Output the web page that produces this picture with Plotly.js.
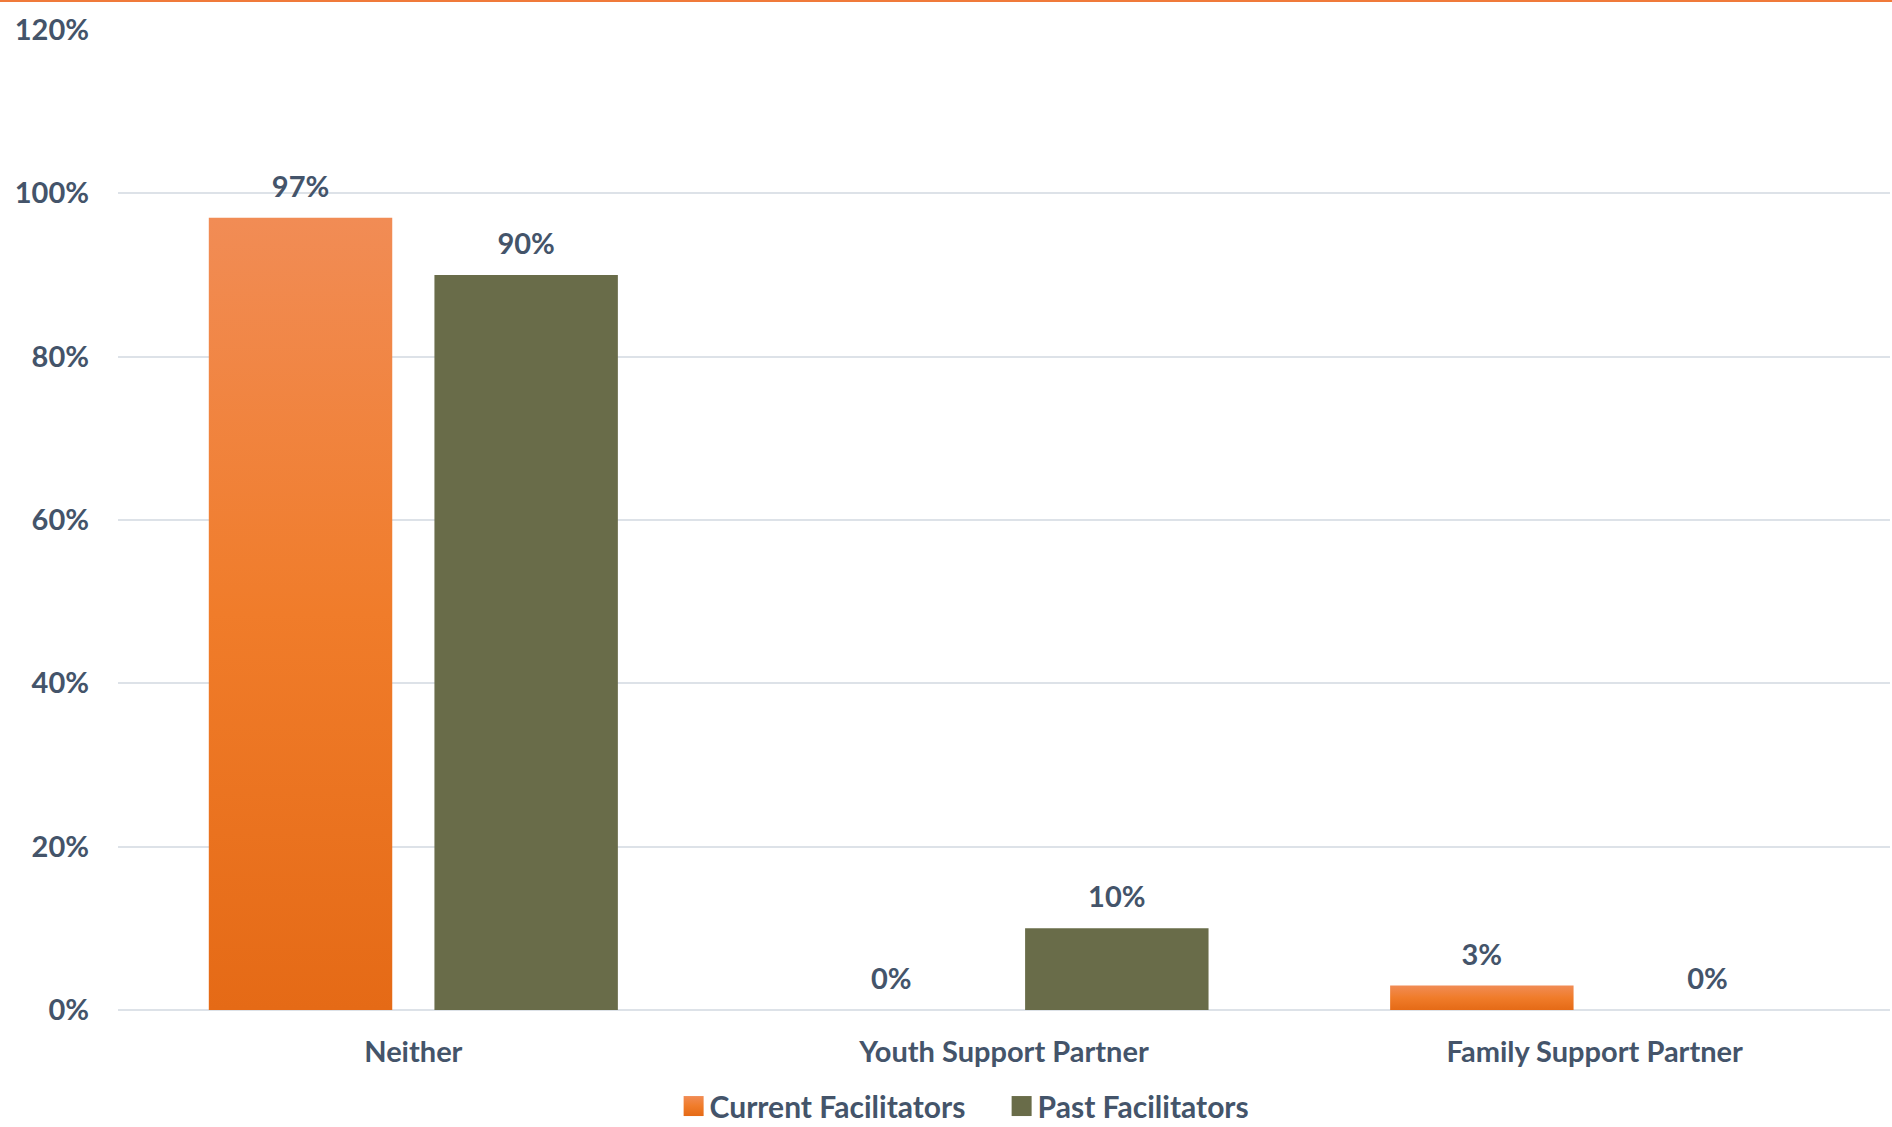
<!DOCTYPE html>
<html>
<head>
<meta charset="utf-8">
<script src="https://cdn.plot.ly/plotly-3.0.1.min.js"></script>
<style>
html,body{margin:0;padding:0;background:#fff;}
#topline{position:absolute;left:0;top:0;width:1892px;height:2px;background:#F07A3A;z-index:10;}
#chart{width:1892px;height:1127px;}
</style>
</head>
<body>
<div id="topline"></div>
<div id="chart"></div>
<script>
const categories = ["Neither", "Youth Support Partner", "Family Support Partner"];
const currentFacilitators = [0.97, 0.00, 0.03];
const pastFacilitators = [0.90, 0.10, 0.00];
const seriesNames = ["Current Facilitators", "Past Facilitators"];
const yTickVals = [0, 0.2, 0.4, 0.6, 0.8, 1.0, 1.2];

const textColor = "#44546A";
const fontFam = "Lato, 'Open Sans', sans-serif";
const fs = 29;
const fmt = v => Math.round(v * 100) + "%";

const traces = [
  {
    type: "bar", name: seriesNames[0], x: categories, y: currentFacilitators,
    text: currentFacilitators.map(fmt), textposition: "outside", cliponaxis: false,
    textfont: {family: fontFam, size: fs, color: textColor, weight: 700},
    marker: {color: "#EE7A2E"}
  },
  {
    type: "bar", name: seriesNames[1], x: categories, y: pastFacilitators,
    text: pastFacilitators.map(fmt), textposition: "outside", cliponaxis: false,
    textfont: {family: fontFam, size: fs, color: textColor, weight: 700},
    marker: {color: "#696C49"}
  }
];

const layout = {
  width: 1892, height: 1127,
  margin: {l: 118, r: 2, t: 30, b: 117, autoexpand: false},
  paper_bgcolor: "#fff", plot_bgcolor: "#fff",
  barmode: "group", bargap: 0.236, bargroupgap: 0.187,
  showlegend: true,
  legend: {
    orientation: "h", x: 0.4964, xanchor: "center", y: -0.098, yanchor: "middle",
    font: {family: fontFam, size: 30, color: textColor, weight: 700},
    itemwidth: 30, traceorder: "normal", entrywidth: 283, entrywidthmode: "pixels"
  },
  font: {family: fontFam, size: fs, color: textColor, weight: 700},
  xaxis: {
    type: "category", showgrid: false, zeroline: false, showline: false,
    ticks: "", ticklabelstandoff: 22, automargin: false,
    tickfont: {family: fontFam, size: fs, color: textColor, weight: 700}
  },
  yaxis: {
    range: [0, 1.2], tickvals: yTickVals, tickformat: ".0%",
    showgrid: true, gridcolor: "#DDE2E8", gridwidth: 2,
    zeroline: true, zerolinecolor: "#DDE2E8", zerolinewidth: 2,
    showline: false, ticks: "", ticklabelstandoff: 28, automargin: false,
    tickfont: {family: fontFam, size: fs, color: textColor, weight: 700}
  }
};

Plotly.newPlot("chart", traces, layout, {displayModeBar: false, staticPlot: true}).then(gd => {
  const svg = gd.querySelector("svg.main-svg");
  const ns = "http://www.w3.org/2000/svg";
  let defs = svg.querySelector("defs");
  if (!defs) { defs = document.createElementNS(ns, "defs"); svg.insertBefore(defs, svg.firstChild); }
  const grad = document.createElementNS(ns, "linearGradient");
  grad.setAttribute("id", "orangeGrad");
  grad.setAttribute("x1", "0"); grad.setAttribute("y1", "0");
  grad.setAttribute("x2", "0"); grad.setAttribute("y2", "1");
  [["0", "#F18C55"], ["0.5", "#F07C2A"], ["1", "#E56A16"]].forEach(([o, c]) => {
    const s = document.createElementNS(ns, "stop");
    s.setAttribute("offset", o); s.setAttribute("stop-color", c);
    grad.appendChild(s);
  });
  defs.appendChild(grad);
  const traceGroups = gd.querySelectorAll(".barlayer .trace");
  traceGroups.forEach((tg, i) => {
    if (i === 0) tg.querySelectorAll("path").forEach(p => { p.style.fill = "url(#orangeGrad)"; });
    tg.querySelectorAll("text").forEach(t => {
      const tr = t.getAttribute("transform") || "";
      t.setAttribute("transform", "translate(0,-12) " + tr);
    });
  });
  const legendTraces = gd.querySelectorAll(".legend .traces");
  legendTraces.forEach((t, i) => {
    t.querySelectorAll(".legendpoints path").forEach(p => {
      p.setAttribute("d", "M-6,-10h20v20h-20z");
      if (i === 0) p.style.fill = "url(#orangeGrad)";
    });
  });
  gd.querySelectorAll(".legend [clip-path]").forEach(e => e.removeAttribute("clip-path"));
});
</script>
</body>
</html>
